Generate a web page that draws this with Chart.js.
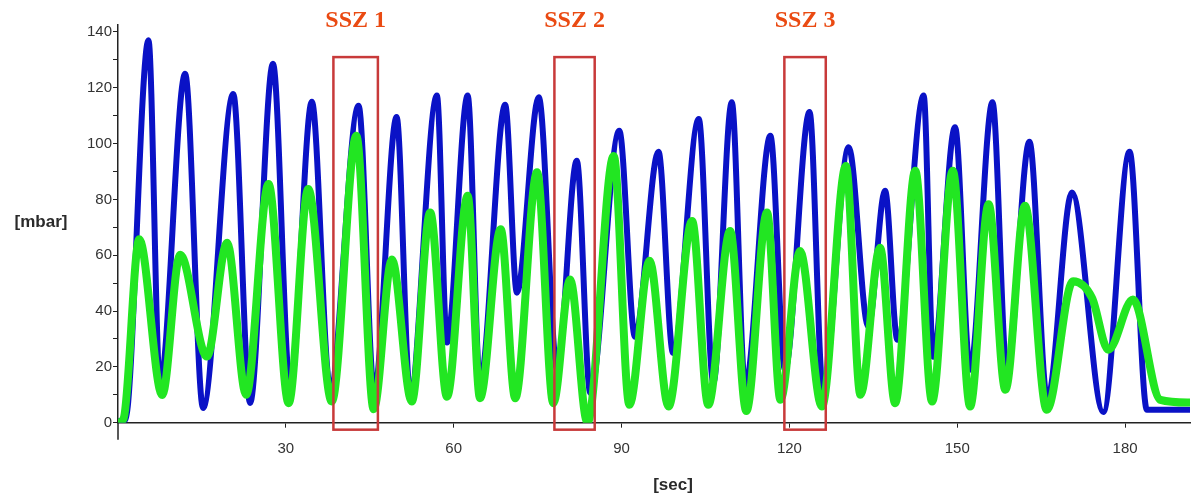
<!DOCTYPE html>
<html>
<head>
<meta charset="utf-8">
<title>SSZ pressure chart</title>
<script src="https://cdn.jsdelivr.net/npm/chart.js@4.4.0/dist/chart.umd.min.js"></script>
<style>
  html, body { margin: 0; padding: 0; background: #fff; }
  #wrap { width: 1192px; height: 497px; }
</style>
</head>
<body>
<div id="wrap"><canvas id="chart" width="1192" height="497"></canvas></div>
<script>
// values: time [sec] and pressure [mbar] at each peak / trough
const blueTime = [0, 1.3, 5.45, 7.5, 12.0, 15.2, 20.6, 23.6, 27.7, 30.8, 34.65, 37.9, 43.0, 45.8,
  49.8, 52.2, 57.0, 58.8, 62.5, 64.7, 69.2, 71.3, 75.2, 78.5, 82.0, 84.4, 89.6, 92.4, 96.6, 99.2,
  103.8, 106.4, 109.7, 112.1, 116.6, 119.2, 123.6, 126.0, 130.6, 134.1, 137.1, 139.3, 144.0, 145.7,
  149.6, 152.3, 156.3, 158.9, 162.9, 166.1, 170.5, 176.1, 180.8, 183.9, 191.6];
const blueValues = [0.5, 1, 137, 13.5, 125, 5.3, 117.8, 7.1, 128.6, 12, 115, 12.8, 113.6, 11,
  109.5, 10.7, 117.2, 28.7, 117.2, 14.3, 113.9, 46.6, 116.6, 19, 93.9, 10.7, 104.6, 30.8, 97.1, 25,
  108.8, 14.3, 114.8, 12.8, 102.8, 19, 111.3, 11.8, 98.7, 34.4, 83.1, 29.7, 117.2, 23.6,
  105.9, 19, 114.8, 17.9, 100.7, 8.2, 82.5, 3.8, 97.1, 4.6, 4.6];

const greenTime = [0, 1.0, 3.8, 7.9, 11.1, 15.9, 19.5, 22.9, 26.9, 30.5, 34.0, 38.2, 42.6, 45.7,
  48.95, 52.5, 55.8, 58.8, 62.5, 64.7, 68.4, 71.0, 74.9, 77.8, 80.8, 83.9, 88.6, 91.4, 95.0, 98.4,
  102.6, 105.5, 109.4, 112.3, 116.0, 118.4, 121.9, 125.8, 130.1, 132.7, 136.2, 138.9, 142.5, 145.5,
  149.2, 152.3, 155.6, 158.6, 162.1, 166.0, 170.7, 174.1, 177.0, 181.4, 186.3, 191.6];
const greenValues = [0, 1.5, 65.7, 9.9, 60.2, 23.7, 64.5, 10, 85.5, 7, 83.7, 7.6, 102.8, 4.8,
  58.5, 7.6, 75.3, 9.3, 81.3, 8.8, 69.3, 8.8, 89.7, 7, 51.3, 0, 95.6, 6.4, 58, 5.8,
  72.3, 6.4, 68.7, 4.2, 75.3, 8.2, 61.5, 5.8, 92, 10, 62.7, 7, 90.3, 7.6,
  90.3, 5.8, 78.3, 11.8, 77.7, 4.6, 50.7, 44.7, 26.1, 44.1, 8.2, 7.2];

// marked zones (in axis units)
const sszLabels = ['SSZ 1', 'SSZ 2', 'SSZ 3'];
const sszStart = [38.5, 78.0, 119.1];
const sszEnd = [46.45, 85.2, 126.5];
const sszTop = 131;
const sszBottom = -2.5;

const xTicks = [30, 60, 90, 120, 150, 180];
const yTicks = [0, 10, 20, 30, 40, 50, 60, 70, 80, 90, 100, 110, 120, 130, 140];

const toPoints = (xs, ys) => xs.map((x, i) => ({ x, y: ys[i] }));

const AXIS = '#222';
const TICK_FONT = { family: 'Arial, "Liberation Sans", sans-serif', size: 15 };

// zones, their labels and the horizontal axis titles
const overlayPlugin = {
  id: 'overlay',
  afterDatasetsDraw(chart) {
    const { ctx, scales: { x, y }, chartArea } = chart;
    ctx.save();

    // y axis line runs a little below zero
    ctx.strokeStyle = AXIS;
    ctx.lineWidth = 1.5;
    ctx.beginPath();
    ctx.moveTo(chartArea.left, chartArea.bottom);
    ctx.lineTo(chartArea.left, chartArea.bottom + 17);
    ctx.stroke();

    ctx.strokeStyle = '#c83a3a';
    ctx.lineWidth = 2.5;
    ctx.fillStyle = '#ea4a12';
    ctx.font = 'bold 24px "Liberation Serif", "Times New Roman", serif';
    ctx.textAlign = 'center';
    ctx.textBaseline = 'alphabetic';
    sszLabels.forEach((label, i) => {
      const x0 = x.getPixelForValue(sszStart[i]);
      const x1 = x.getPixelForValue(sszEnd[i]);
      const y0 = y.getPixelForValue(sszTop);
      const y1 = y.getPixelForValue(sszBottom);
      ctx.strokeRect(x0, y0, x1 - x0, y1 - y0);
      ctx.fillText(label, (x0 + x1) / 2, 27);
    });

    ctx.fillStyle = '#2a2a2a';
    ctx.font = 'bold 17px Arial, "Liberation Sans", sans-serif';
    ctx.textBaseline = 'middle';
    ctx.fillText('[mbar]', 41, (chartArea.top + chartArea.bottom) / 2 - 2);
    ctx.fillText('[sec]', 673, 485);
    ctx.restore();
  }
};

new Chart(document.getElementById('chart'), {
  type: 'line',
  data: {
    datasets: [
      {
        label: 'green',
        data: toPoints(greenTime, greenValues),
        borderColor: '#22e622',
        borderWidth: 8,
        order: 0
      },
      {
        label: 'blue',
        data: toPoints(blueTime, blueValues),
        borderColor: '#0a12c6',
        borderWidth: 6,
        order: 1
      }
    ]
  },
  options: {
    responsive: false,
    animation: false,
    layout: { padding: { top: 25, right: 2, left: 0, bottom: 0 } },
    elements: {
      point: { radius: 0 },
      line: {
        cubicInterpolationMode: 'monotone',
        borderJoinStyle: 'round',
        borderCapStyle: 'round',
        fill: false
      }
    },
    plugins: {
      legend: { display: false },
      tooltip: { enabled: false }
    },
    scales: {
      x: {
        type: 'linear',
        min: 0,
        max: 191.6,
        afterFit: (scale) => { scale.height = 74.3; },
        afterBuildTicks: (scale) => { scale.ticks = xTicks.map(v => ({ value: v })); },
        border: { color: AXIS, width: 1.5 },
        grid: { drawOnChartArea: false, drawTicks: true, tickLength: 5, color: AXIS },
        ticks: { font: TICK_FONT, color: '#333', padding: 12, autoSkip: false, maxRotation: 0 }
      },
      y: {
        type: 'linear',
        min: 0,
        max: 142.5,
        afterFit: (scale) => { scale.width = 118; },
        afterBuildTicks: (scale) => { scale.ticks = yTicks.map(v => ({ value: v })); },
        border: { color: AXIS, width: 1.5 },
        grid: { drawOnChartArea: false, drawTicks: true, tickLength: 5, color: AXIS },
        ticks: {
          font: TICK_FONT,
          color: '#333',
          padding: 1,
          autoSkip: false,
          callback: (value) => (value % 20 === 0 ? value : '')
        }
      }
    }
  },
  plugins: [overlayPlugin]
});
</script>
</body>
</html>
